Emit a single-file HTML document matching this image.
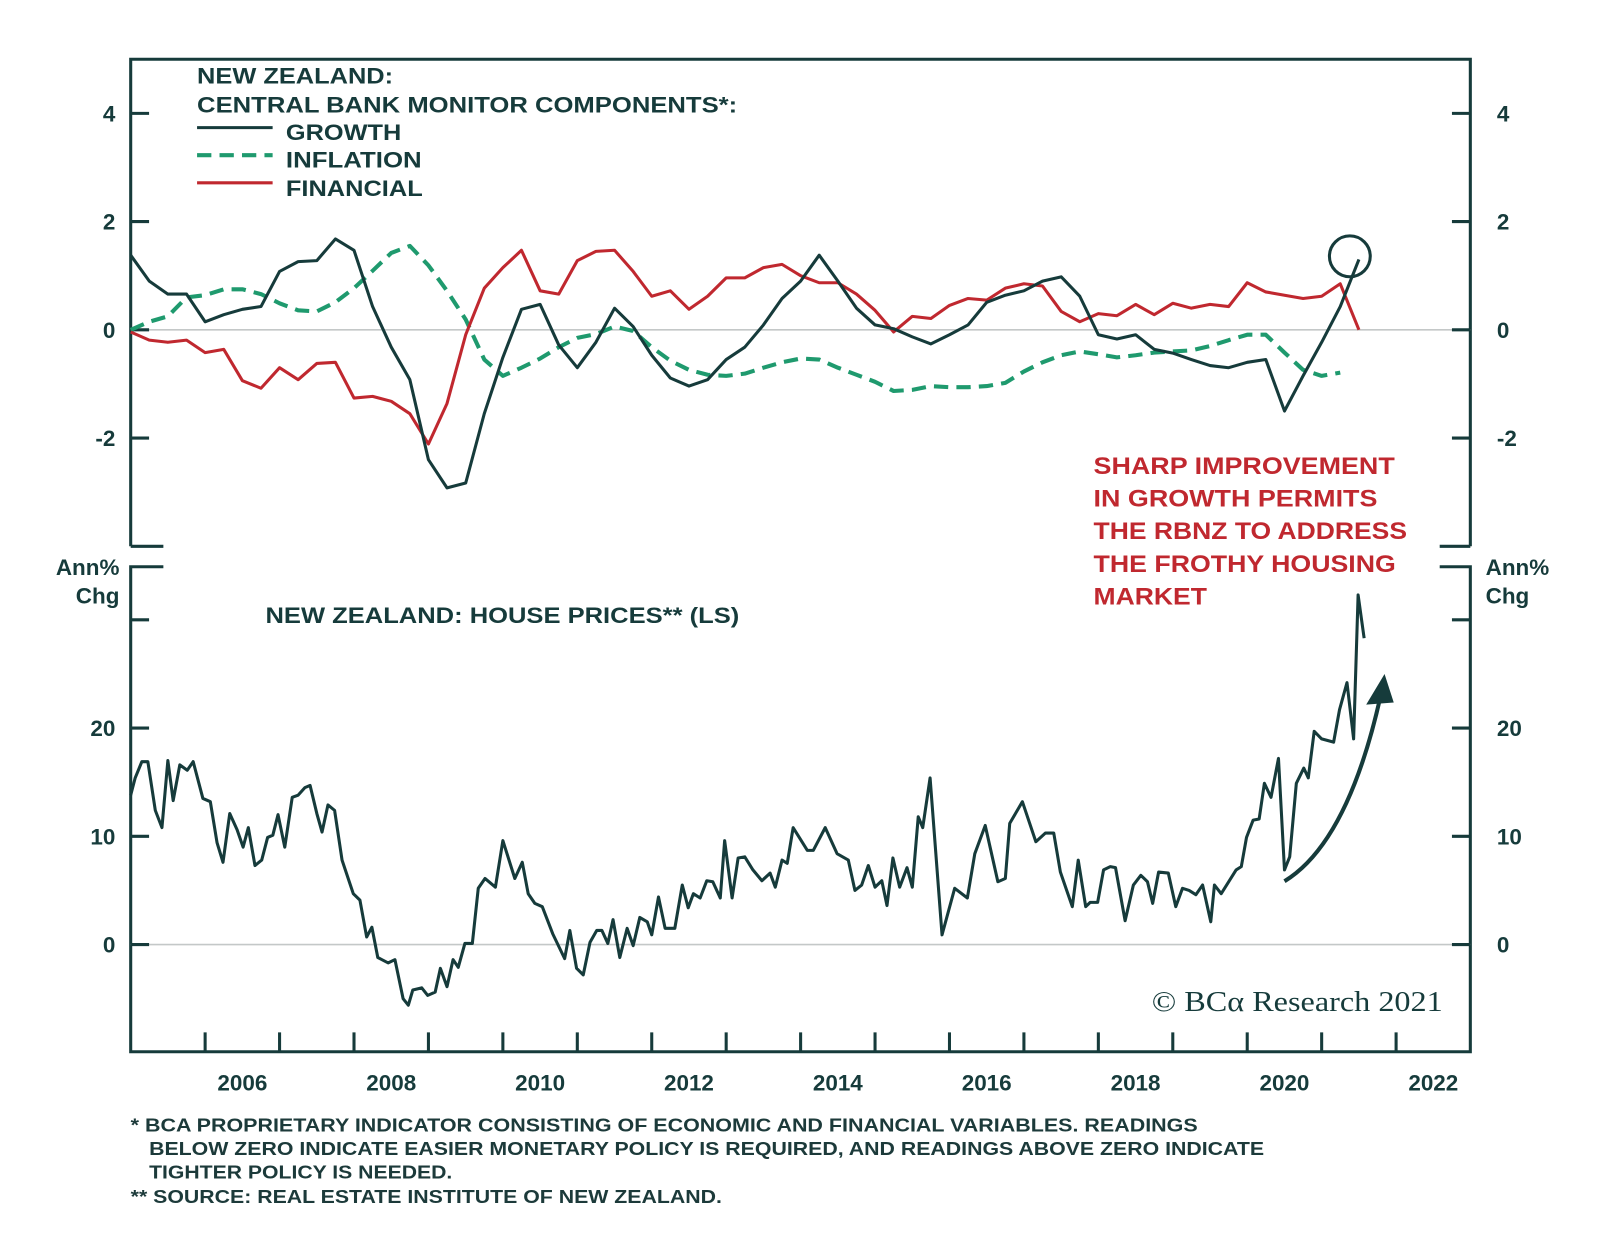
<!DOCTYPE html>
<html><head><meta charset="utf-8">
<style>
html,body{margin:0;padding:0;background:#fff;}
svg{display:block;}
text{font-family:"Liberation Sans",Arial,sans-serif;font-weight:bold;}
</style></head>
<body>
<svg id="chart" width="1600" height="1256" viewBox="0 0 1567 1230" preserveAspectRatio="none" xmlns="http://www.w3.org/2000/svg">
  <rect width="1567" height="1230" fill="#fff"/>
  <g id="frame" stroke="#163b3b" stroke-width="3" fill="none">
    <path d="M128 535 V58 H1440 V535"/>
    <path d="M128 535 H160 M1410 535 H1440"/>
    <path d="M160 555 H128 V1030 H1440 V555 H1410"/>
  </g>
  <g id="topAxis"></g>
  <g id="botAxis"></g>
  <g id="xAxis"></g>
  <g id="series"></g>

  <g fill="#163b3b" font-size="22">
    <text x="193" y="82" textLength="192" lengthAdjust="spacingAndGlyphs">NEW ZEALAND:</text>
    <text x="193" y="110" textLength="529" lengthAdjust="spacingAndGlyphs">CENTRAL BANK MONITOR COMPONENTS*:</text>
    <line x1="193" y1="125" x2="267" y2="125" stroke="#163b3b" stroke-width="3"/>
    <text x="280" y="137" textLength="113" lengthAdjust="spacingAndGlyphs">GROWTH</text>
    <line x1="193" y1="152" x2="267" y2="152" stroke="#1f9a6e" stroke-width="4" stroke-dasharray="14 8"/>
    <text x="280" y="164" textLength="133" lengthAdjust="spacingAndGlyphs">INFLATION</text>
    <line x1="193" y1="179" x2="267" y2="179" stroke="#c0282f" stroke-width="3"/>
    <text x="280" y="192" textLength="134" lengthAdjust="spacingAndGlyphs">FINANCIAL</text>
  </g>

  <g fill="#c0282f" font-size="24">
    <text x="1071" y="464" textLength="295" lengthAdjust="spacingAndGlyphs">SHARP IMPROVEMENT</text>
    <text x="1071" y="496" textLength="278" lengthAdjust="spacingAndGlyphs">IN GROWTH PERMITS</text>
    <text x="1071" y="528" textLength="307" lengthAdjust="spacingAndGlyphs">THE RBNZ TO ADDRESS</text>
    <text x="1071" y="560" textLength="296" lengthAdjust="spacingAndGlyphs">THE FROTHY HOUSING</text>
    <text x="1071" y="592" textLength="111" lengthAdjust="spacingAndGlyphs">MARKET</text>
  </g>
  <circle cx="1322" cy="251" r="20" fill="none" stroke="#163b3b" stroke-width="3"/>
  <path d="M1258 863 Q1320 825 1352 682" fill="none" stroke="#163b3b" stroke-width="4"/>
  <polygon points="1356,660 1338,690 1365,688" fill="#163b3b"/>

  <g fill="#163b3b" font-size="22">
    <text x="117" y="563" text-anchor="end">Ann%</text>
    <text x="117" y="591" text-anchor="end">Chg</text>
    <text x="1455" y="563">Ann%</text>
    <text x="1455" y="591">Chg</text>
    <text x="260" y="610" textLength="464" lengthAdjust="spacingAndGlyphs">NEW ZEALAND: HOUSE PRICES** (LS)</text>
  </g>
  <text x="1128" y="990" textLength="285" lengthAdjust="spacingAndGlyphs" font-size="28" fill="#163b3b" style="font-family:'Liberation Serif',serif;font-weight:normal">© BCα Research 2021</text>

  <g fill="#1c3a3a" font-size="18">
    <text x="128" y="1108" textLength="1045" lengthAdjust="spacingAndGlyphs">*  BCA PROPRIETARY INDICATOR CONSISTING OF ECONOMIC AND FINANCIAL VARIABLES. READINGS</text>
    <text x="146" y="1131" textLength="1092" lengthAdjust="spacingAndGlyphs">BELOW ZERO INDICATE EASIER MONETARY POLICY IS REQUIRED, AND READINGS ABOVE ZERO INDICATE</text>
    <text x="146" y="1154" textLength="297" lengthAdjust="spacingAndGlyphs">TIGHTER POLICY IS NEEDED.</text>
    <text x="128" y="1178" textLength="579" lengthAdjust="spacingAndGlyphs">** SOURCE: REAL ESTATE INSTITUTE OF NEW ZEALAND.</text>
  </g>
</svg>
<script>
// ---- data ----
const topTicks = [4, 2, 0, -2];
const topTickLabels = ["4", "2", "0", "-2"];
const botTicks = [30, 20, 10, 0];
const botTickLabels = ["", "20", "10", "0"];
const yearTicks = [2006,2007,2008,2009,2010,2011,2012,2013,2014,2015,2016,2017,2018,2019,2020,2021,2022];
const yearLabels = ["2006","2008","2010","2012","2014","2016","2018","2020","2022"];
const quarterStart = 2005.0;
const quarterStep = 0.25;
const growthValues = [1.38,0.9,0.66,0.66,0.15,0.28,0.38,0.43,1.08,1.26,1.28,1.68,1.47,0.43,-0.32,-0.92,-2.4,-2.92,-2.83,-1.55,-0.51,0.38,0.47,-0.28,-0.7,-0.23,0.4,0.06,-0.47,-0.89,-1.04,-0.92,-0.55,-0.32,0.09,0.58,0.9,1.38,0.9,0.4,0.09,0.02,-0.13,-0.26,-0.09,0.09,0.51,0.64,0.72,0.9,0.98,0.62,-0.09,-0.17,-0.09,-0.36,-0.43,-0.55,-0.66,-0.7,-0.6,-0.55,-1.5,-0.85,-0.23,0.43,1.3];
const inflationValues = [0,0.15,0.25,0.6,0.64,0.75,0.75,0.66,0.49,0.36,0.34,0.51,0.77,1.09,1.42,1.55,1.19,0.72,0.19,-0.55,-0.85,-0.7,-0.53,-0.32,-0.15,-0.08,0.06,-0.02,-0.32,-0.57,-0.74,-0.83,-0.85,-0.81,-0.7,-0.6,-0.53,-0.55,-0.7,-0.83,-0.96,-1.13,-1.11,-1.04,-1.06,-1.06,-1.04,-0.98,-0.77,-0.6,-0.47,-0.4,-0.45,-0.51,-0.47,-0.42,-0.4,-0.38,-0.3,-0.19,-0.09,-0.09,-0.42,-0.74,-0.85,-0.79];
const financialValues = [-0.04,-0.19,-0.23,-0.19,-0.42,-0.36,-0.94,-1.08,-0.7,-0.92,-0.62,-0.6,-1.26,-1.23,-1.32,-1.55,-2.11,-1.36,-0.09,0.77,1.15,1.47,0.72,0.66,1.28,1.45,1.47,1.08,0.62,0.72,0.38,0.62,0.96,0.96,1.15,1.21,1.0,0.87,0.87,0.66,0.36,-0.04,0.25,0.21,0.45,0.58,0.55,0.77,0.85,0.81,0.34,0.15,0.3,0.26,0.47,0.28,0.49,0.4,0.47,0.43,0.87,0.7,0.64,0.58,0.62,0.85,0.0];
const houseDates = [2005.0,2005.06,2005.15,2005.23,2005.33,2005.42,2005.5,2005.57,2005.66,2005.76,2005.84,2005.97,2006.07,2006.16,2006.24,2006.33,2006.43,2006.51,2006.58,2006.67,2006.76,2006.84,2006.91,2006.98,2007.07,2007.17,2007.25,2007.34,2007.41,2007.5,2007.57,2007.65,2007.74,2007.84,2007.99,2008.08,2008.17,2008.24,2008.32,2008.46,2008.55,2008.66,2008.73,2008.79,2008.91,2008.99,2009.09,2009.16,2009.25,2009.33,2009.4,2009.49,2009.59,2009.67,2009.76,2009.9,2010.0,2010.16,2010.26,2010.34,2010.43,2010.53,2010.67,2010.83,2010.9,2010.99,2011.08,2011.17,2011.26,2011.33,2011.41,2011.48,2011.57,2011.67,2011.75,2011.84,2011.94,2012.0,2012.09,2012.18,2012.31,2012.41,2012.49,2012.56,2012.65,2012.74,2012.82,2012.92,2012.98,2013.08,2013.16,2013.25,2013.36,2013.48,2013.59,2013.66,2013.75,2013.82,2013.9,2013.99,2014.09,2014.17,2014.33,2014.49,2014.64,2014.73,2014.82,2014.91,2015.0,2015.09,2015.16,2015.24,2015.33,2015.43,2015.5,2015.58,2015.64,2015.74,2015.9,2016.07,2016.24,2016.34,2016.48,2016.65,2016.75,2016.81,2016.98,2017.16,2017.29,2017.4,2017.49,2017.65,2017.73,2017.83,2017.89,2017.99,2018.07,2018.16,2018.23,2018.36,2018.47,2018.57,2018.66,2018.73,2018.81,2018.94,2019.04,2019.13,2019.22,2019.31,2019.4,2019.51,2019.56,2019.65,2019.76,2019.85,2019.92,2019.99,2020.08,2020.16,2020.23,2020.32,2020.42,2020.5,2020.57,2020.66,2020.76,2020.82,2020.9,2021.0,2021.16,2021.24,2021.34,2021.43,2021.49,2021.57];
const houseValues = [13.8,15.4,16.9,16.9,12.4,10.8,17.0,13.3,16.6,16.1,16.9,13.5,13.2,9.4,7.6,12.1,10.6,9.0,10.8,7.3,7.8,9.9,10.1,12.0,9.0,13.6,13.8,14.5,14.7,12.1,10.4,12.9,12.4,7.8,4.7,4.1,0.7,1.6,-1.2,-1.7,-1.4,-5.0,-5.6,-4.2,-4.0,-4.7,-4.4,-2.2,-3.9,-1.4,-2.1,0.1,0.1,5.2,6.1,5.3,9.6,6.1,7.6,4.7,3.8,3.5,1.0,-1.3,1.3,-2.2,-2.8,0.2,1.3,1.3,0.1,2.3,-1.2,1.5,-0.1,2.5,2.1,0.9,4.4,1.5,1.5,5.5,3.4,4.7,4.3,5.9,5.8,4.3,9.6,4.3,8.0,8.1,6.9,5.9,6.6,5.3,7.8,7.5,10.8,9.8,8.7,8.7,10.8,8.4,7.8,5.0,5.5,7.3,5.3,5.9,3.6,8.0,5.3,7.1,5.3,11.8,10.8,15.4,0.9,5.2,4.3,8.4,11.0,5.8,6.1,11.2,13.2,9.5,10.3,10.3,6.7,3.5,7.8,3.5,3.9,3.9,6.9,7.2,7.1,2.2,5.5,6.4,5.8,3.8,6.7,6.6,3.5,5.2,5.0,4.6,5.5,2.1,5.5,4.7,5.9,6.9,7.2,9.9,11.5,11.6,14.9,13.6,17.2,6.9,8.1,14.9,16.3,15.4,19.7,19.0,18.7,21.7,24.2,19.0,32.3,28.3];

// ---- scales ----
const NS = "http://www.w3.org/2000/svg";
function xS(t){ return 128 + (t - 2005) * 72.9; }
function yTop(v){ return 323 - v * 53; }
function yBot(v){ return 925 - v * 10.6; }
function mk(tag, attrs, parent){
  const el = document.createElementNS(NS, tag);
  for (const k in attrs) el.setAttribute(k, attrs[k]);
  parent.appendChild(el);
  return el;
}

// ---- top axis ----
const topAxis = document.getElementById('topAxis');
const z1 = mk('line', {x1:128, x2:1440, y1:yTop(0), y2:yTop(0), stroke:'#c4c8c8', 'stroke-width':1.5}, topAxis);


topTicks.forEach((v, i) => {
  const y = yTop(v);
  const tl = mk('path', {d:`M128 ${y} H146 M1422 ${y} H1440`, stroke:'#163b3b', 'stroke-width':3}, topAxis);
  
  
  const l = mk('text', {x:113, y:y + 8, 'text-anchor':'end', 'font-size':22, fill:'#163b3b'}, topAxis);
  l.textContent = topTickLabels[i];
  
  
  const r = mk('text', {x:1466, y:y + 8, 'font-size':22, fill:'#163b3b'}, topAxis);
  r.textContent = topTickLabels[i];
  
  
});

// ---- bottom axis ----
const botAxis = document.getElementById('botAxis');
const z2 = mk('line', {x1:128, x2:1440, y1:yBot(0), y2:yBot(0), stroke:'#c4c8c8', 'stroke-width':1.5}, botAxis);


botTicks.forEach((v, i) => {
  const y = yBot(v);
  const tl = mk('path', {d:`M128 ${y} H146 M1422 ${y} H1440`, stroke:'#163b3b', 'stroke-width':3}, botAxis);
  
  
  if (botTickLabels[i]) {
    const l = mk('text', {x:113, y:y + 8, 'text-anchor':'end', 'font-size':22, fill:'#163b3b'}, botAxis);
    l.textContent = botTickLabels[i];
    
    
    const r = mk('text', {x:1466, y:y + 8, 'font-size':22, fill:'#163b3b'}, botAxis);
    r.textContent = botTickLabels[i];
    
    
  }
});

// ---- x axis ----
const xAxis = document.getElementById('xAxis');
yearTicks.forEach(yr => {
  const x = xS(yr);
  const t = mk('line', {x1:x, x2:x, y1:1030, y2:1011, stroke:'#163b3b', 'stroke-width':3}, xAxis);
  
  
});
yearLabels.forEach(lbl => {
  const t = mk('text', {x:xS(+lbl + 0.5), y:1068, 'text-anchor':'middle', 'font-size':22, fill:'#163b3b'}, xAxis);
  t.textContent = lbl;
  
  
});

// ---- series ----
const series = document.getElementById('series');
function pathQ(vals, yf){
  return vals.map((v, i) => (i ? 'L' : 'M') + xS(quarterStart + i * quarterStep).toFixed(1) + ' ' + yf(v).toFixed(1)).join(' ');
}
const pInf = mk('path', {d:pathQ(inflationValues, yTop), fill:'none', stroke:'#1f9a6e', 'stroke-width':4, 'stroke-dasharray':'14 8', 'stroke-linejoin':'round'}, series);


const pFin = mk('path', {d:pathQ(financialValues, yTop), fill:'none', stroke:'#c0282f', 'stroke-width':3, 'stroke-linejoin':'round'}, series);


const pGro = mk('path', {d:pathQ(growthValues, yTop), fill:'none', stroke:'#163b3b', 'stroke-width':3, 'stroke-linejoin':'round'}, series);


const hd = houseValues.map((v, i) => (i ? 'L' : 'M') + xS(houseDates[i]).toFixed(1) + ' ' + yBot(v).toFixed(1)).join(' ');
const pHouse = mk('path', {d:hd, fill:'none', stroke:'#163b3b', 'stroke-width':3, 'stroke-linejoin':'round'}, series);


</script>
</body></html>
